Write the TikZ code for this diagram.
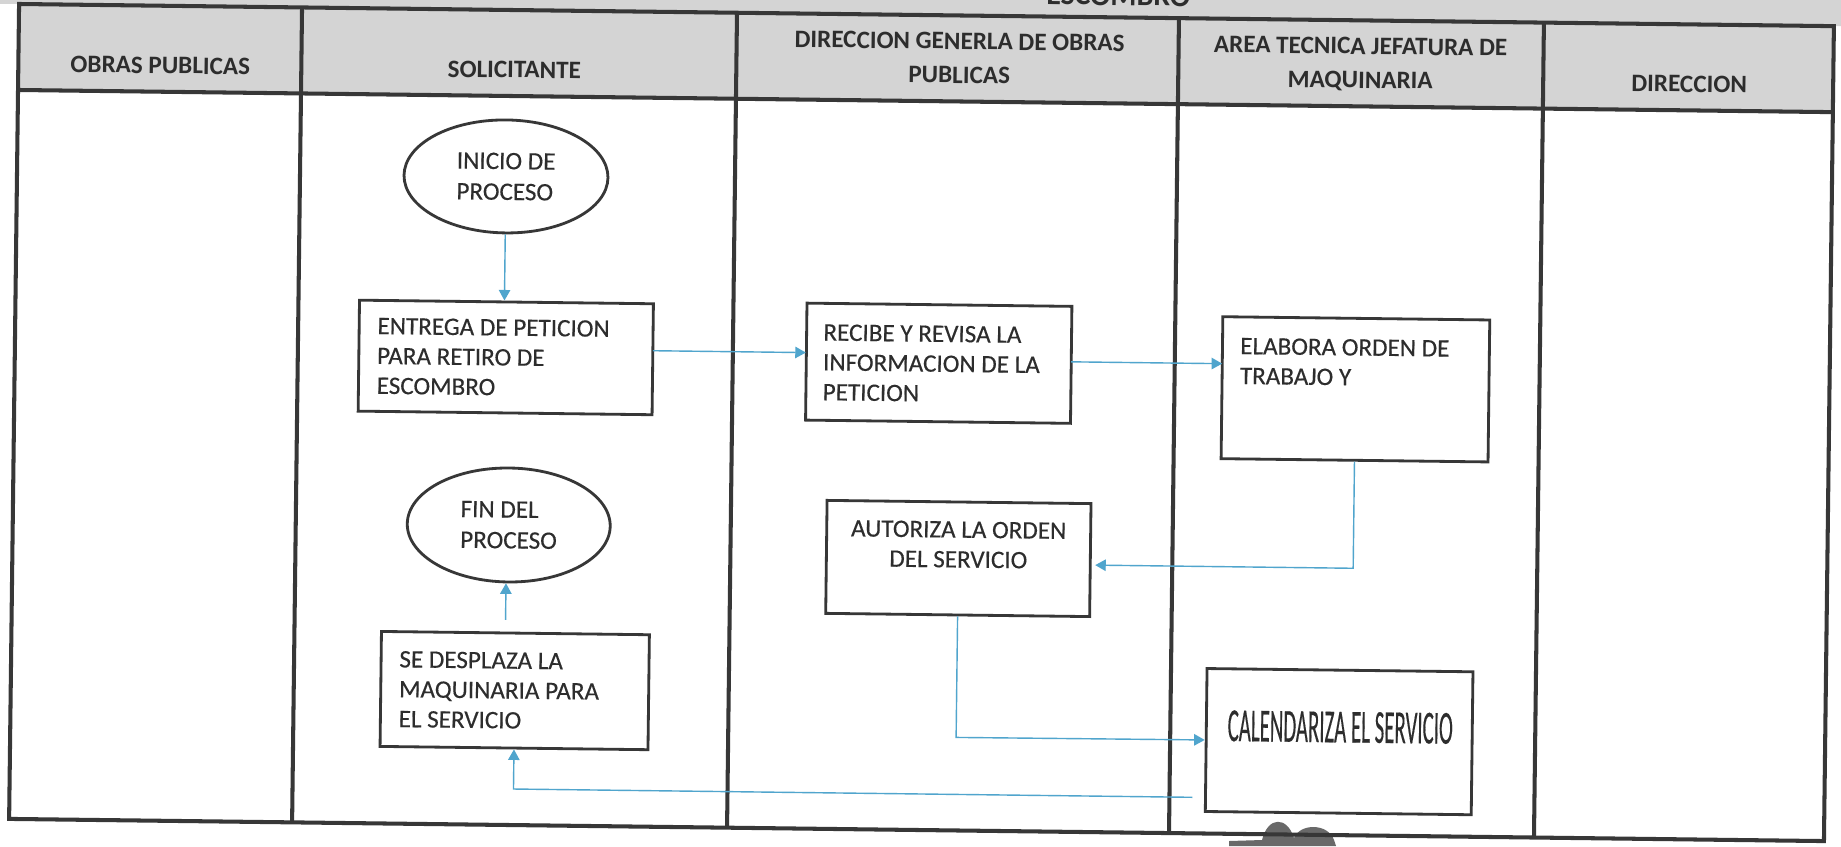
\documentclass[tikz,border=0pt]{standalone}
\usepackage{fontspec}
\usepackage{graphicx}
\setmainfont{Carlito}
\newfontfamily\scanfont{Carlito}[FakeBold=0.35]
\usetikzlibrary{arrows.meta,shapes.geometric}
\definecolor{ink}{RGB}{45,45,45}
\definecolor{framec}{RGB}{55,55,55}
\definecolor{hdr}{RGB}{212,212,212}
\definecolor{flow}{RGB}{80,165,205}
\definecolor{stamp}{RGB}{105,105,105}
\begin{document}
\begin{tikzpicture}[x=0.02cm,y=-0.02cm,
  frameline/.style={draw=framec,line width=2.3pt},
  boxshape/.style={draw=framec,line width=1.6pt,rectangle,inner sep=0pt},
  ovalshape/.style={draw=framec,line width=1.6pt,ellipse,inner sep=0pt,align=left,text=ink,font=\scanfont\fontsize{14.3}{17.5}\selectfont},
  txt/.style={inner sep=0pt,align=left,text=ink,font=\scanfont\fontsize{14.3}{17}\selectfont},
  hdrtxt/.style={inner sep=0pt,align=center,text=ink,font=\bfseries\fontsize{14.3}{19.3}\selectfont,anchor=north},
  arr/.style={draw=flow,line width=0.8pt,-{Triangle[length=6pt,width=6.5pt]}}]
\useasboundingbox (0,0) rectangle (1841,846);
\fill[white] (0,0) rectangle (1841,846);
% stamp remnant at the bottom edge
\fill[stamp] (1229,846) -- (1229,841) -- (1262,840) .. controls (1268,816) and (1287,816) .. (1294,838) .. controls (1300,823) and (1328,823) .. (1334,840) -- (1336,846) -- cycle;
\begin{scope}[rotate around={-0.7:(920,423)}, transform shape]
% title band and header
\fill[hdr] (-40,-40) rectangle (1880,15);
\fill[hdr] (14,15) rectangle (1829,101);
\node[inner sep=0pt,text=ink,font=\bfseries\fontsize{17}{20}\selectfont,anchor=base] (title) at (1113,3) {ESCOMBRO};
\draw[frameline] (14,15) rectangle (1829,830);
\draw[frameline] (14,101) -- (1829,101);
\foreach \cx in {297,732,1174,1539} \draw[frameline] (\cx,15) -- (\cx,830);
% header texts
\node[hdrtxt] (h1) at (156,66) {OBRAS PUBLICAS};
\node[hdrtxt] (h2) at (510,66) {SOLICITANTE};
\node[hdrtxt] (h3) at (955,32) {DIRECCION GENERLA DE OBRAS\\PUBLICAS};
\node[hdrtxt] (h4) at (1356,32) {AREA TECNICA JEFATURA DE\\MAQUINARIA};
\node[hdrtxt] (h5) at (1685,66) {DIRECCION};
% flow elements
\node[ovalshape, minimum width=4.08cm, minimum height=2.26cm] (INICIO) at (503,181.5) {INICIO DE\\PROCESO};
\node[ovalshape, minimum width=4.06cm, minimum height=2.28cm] (FIN) at (510,530) {FIN DEL\\PROCESO};
\node[boxshape, minimum width=5.88cm, minimum height=2.22cm] (ENTREGA) at (505,362.5) {};
\node[txt, anchor=north west] (ENTREGAt) at (376,324) {ENTREGA DE PETICION\\PARA RETIRO DE\\ESCOMBRO};
\node[boxshape, minimum width=5.3cm, minimum height=2.34cm] (RECIBE) at (938,363) {};
\node[txt, anchor=north west] (RECIBEt) at (822,325) {RECIBE Y REVISA LA\\INFORMACION DE LA\\PETICION};
\node[boxshape, minimum width=5.34cm, minimum height=2.84cm] (ELABORA) at (1355,384) {};
\node[txt, anchor=north west] (ELABORAt) at (1239,333.5) {ELABORA ORDEN DE\\TRABAJO Y};
\node[boxshape, minimum width=5.28cm, minimum height=2.26cm] (AUTORIZA) at (960,558) {};
\node[txt, align=center, anchor=north] (AUTORIZAt) at (960,520.5) {AUTORIZA LA ORDEN\\DEL SERVICIO};
\node[boxshape, minimum width=5.36cm, minimum height=2.3cm] (SE) at (518,695.5) {};
\node[txt, anchor=north west] (SEt) at (402,657) {SE DESPLAZA LA\\MAQUINARIA PARA\\EL SERVICIO};
\node[boxshape, minimum width=5.32cm, minimum height=2.86cm] (CAL) at (1343,736.5) {};
\node[txt, anchor=center] (CALt) at (1344,722) {\scalebox{0.44}[1]{\fontsize{27}{30}\selectfont CALENDARIZA EL SERVICIO}};
% connector end points
\coordinate (e1) at (652,354);
\coordinate (r1) at (805,354);
\coordinate (r2) at (1070.5,360);
\coordinate (l1) at (1221.5,360);
\coordinate (k1) at (1355,563);
\coordinate (a1) at (1097,563);
\coordinate (k2) at (960,737);
\coordinate (c1) at (1197,794);
\coordinate (k3) at (518,794);
\coordinate (s1) at (508,625);
% connectors
\draw[arr] (INICIO.south) -- (INICIO.south |- ENTREGA.north);
\draw[arr] (e1) -- (r1);
\draw[arr] (r2) -- (l1);
\draw[arr] (ELABORA.south) -- (k1) -- (a1);
\draw[arr] (AUTORIZA.south) -- (k2) -- (CAL.west);
\draw[arr] (c1) -- (k3) -- (SE.south);
\draw[arr] (s1) -- (s1 |- FIN.south);
\end{scope}
\end{tikzpicture}
\end{document}
